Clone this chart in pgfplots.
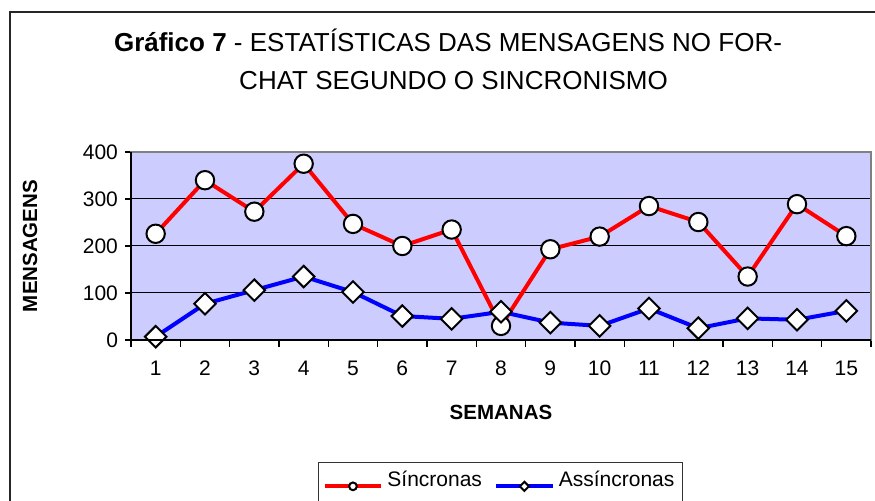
\documentclass[border=0pt]{standalone}
\usepackage{pgfplots}
\pgfplotsset{compat=1.18}
\usepackage{fontspec}
\setmainfont{Liberation Sans}
\definecolor{lav}{RGB}{204,204,255}
\newcommand{\px}[2]{({#1*0.5pt},{(501-#2)*0.5pt})}
\begin{document}
\begin{tikzpicture}
\useasboundingbox (0,0) rectangle (437.5pt,250.5pt);
\draw[line width=1pt,black!85] \px{10}{510} -- \px{10}{12.5} -- \px{880}{12.5};
\node[anchor=base,font=\fontsize{13}{15}\selectfont,inner sep=0pt] at \px{448}{51.7} {\textbf{Gráfico 7} - ESTATÍSTICAS DAS MENSAGENS NO FOR-};
\node[anchor=base,font=\fontsize{13}{15}\selectfont,inner sep=0pt] at \px{453.5}{90} {CHAT SEGUNDO O SINCRONISMO};
\begin{axis}[
  at={(65.5pt,80.5pt)}, anchor=south west,
  scale only axis, width=370pt, height=94pt,
  xmin=0.5, xmax=15.5, ymin=0, ymax=400,
  xtick={1,...,15}, minor xtick={0.5,1.5,...,15.5},
  major x tick style={draw=none},
  ytick={0,100,200,300,400},
  tick align=outside, xtick pos=bottom, ytick pos=left,
  major tick length=3pt, minor tick length=3.5pt,
  tick style={black, line width=0.6pt},
  ymajorgrids, grid style={black, line width=0.5pt},
  axis line style={gray, line width=0.8pt},
  axis background/.style={fill=lav},
  /pgf/number format/assume math mode=true,
  tick label style={font=\fontsize{10.5}{12}\selectfont},
  xticklabel style={yshift=-4pt},
  xlabel={SEMANAS}, ylabel={MENSAGENS},
  xlabel style={at={(axis description cs:0.5,-0.383)}, anchor=center, font=\bfseries\fontsize{10.25}{12}\selectfont},
  ylabel style={at={(axis description cs:-0.1365,0.5)}, anchor=center, font=\bfseries\fontsize{10.25}{12}\selectfont},
  legend columns=2,
  legend style={at={(axis description cs:0.4993,-0.649)}, anchor=north, draw=black!80, line width=0.6pt,
    font=\fontsize{10.5}{12}\selectfont, inner xsep=2pt, inner ysep=2pt,
    nodes={text depth=8pt}, /tikz/every even column/.append style={column sep=4pt}},
  legend image code/.code={\draw[mark repeat=2,mark phase=2,every mark/.append style={scale=0.42}] plot coordinates {(0cm,0cm) (0.5cm,0cm) (1cm,0cm)};},
  after end axis/.code={\draw[black, line width=1pt] (rel axis cs:0,1) -- (rel axis cs:0,0) -- (rel axis cs:1,0);},
]
\addplot[red, line width=2pt, mark=*, mark size=4.6pt, mark options={fill=white, draw=black, line width=1pt}]
  coordinates {(1,226) (2,340) (3,273) (4,375) (5,247) (6,200) (7,235) (8,30) (9,193) (10,220) (11,285) (12,251) (13,135) (14,289) (15,221)};
\addlegendentry{Síncronas}
\addplot[blue, line width=2pt, mark=square*, mark size=3.8pt, mark options={rotate=45, fill=white, draw=black, line width=1pt}]
  coordinates {(1,7) (2,77) (3,106) (4,135) (5,102) (6,51) (7,45) (8,60) (9,37) (10,30) (11,67) (12,25) (13,46) (14,43) (15,62)};
\addlegendentry{Assíncronas}
\end{axis}
\end{tikzpicture}
\end{document}
